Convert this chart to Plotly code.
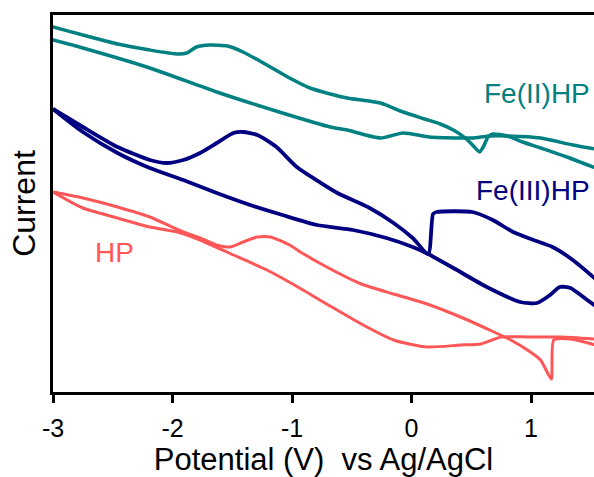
import plotly.graph_objects as go

# ---------------- data (potential in V, current in arbitrary units) ----------------
# Fe(II)HP
fe2_scan_a_v = [-3.10, -3.00, -2.75, -2.46, -2.19, -1.96, -1.88, -1.80, -1.69, -1.54, -1.41, -1.21,
                -1.02, -0.85, -0.68, -0.54, -0.26, -0.07, 0.11, 0.24, 0.35, 0.45, 0.51, 0.57,
                0.60, 0.64, 0.68, 0.80, 0.93, 1.08, 1.30, 1.54]
fe2_scan_a_i = [36.8, 36.5, 35.7, 34.8, 34.2, 33.8, 33.9, 34.5, 34.7, 34.6, 34.0, 32.7,
                31.4, 30.4, 29.8, 29.4, 28.9, 28.0, 27.3, 26.8, 26.2, 25.4, 24.7, 24.0,
                24.5, 25.5, 25.8, 25.6, 25.0, 24.4, 23.5, 22.4]
fe2_scan_b_v = [-3.10, -3.00, -2.75, -2.19, -1.63, -1.08, -0.68, -0.54, -0.26, -0.07, 0.15, 0.41,
                0.51, 0.66, 0.80, 1.08, 1.35, 1.54]
fe2_scan_b_i = [35.5, 35.2, 34.4, 32.4, 30.0, 27.9, 26.5, 26.2, 25.4, 25.9, 25.5, 25.4,
                25.4, 25.6, 25.6, 25.4, 24.7, 24.3]

# Fe(III)HP
fe3_scan_a_v = [-3.00, -2.75, -2.46, -2.19, -2.05, -1.91, -1.77, -1.63, -1.49, -1.41, -1.29, -1.13,
                -0.96, -0.77, -0.62, -0.35, -0.15, 0.01, 0.14, 0.18, 0.21, 0.51, 0.68, 0.85,
                1.02, 1.18, 1.35, 1.54]
fe3_scan_a_i = [28.3, 26.5, 24.5, 23.2, 22.9, 23.2, 23.9, 24.9, 25.9, 26.0, 25.7, 24.5,
                22.5, 21.0, 19.9, 18.4, 16.9, 15.4, 13.8, 17.8, 18.0, 18.0, 17.2, 16.0,
                15.2, 14.5, 13.2, 11.3]
fe3_scan_b_v = [-3.00, -2.75, -2.46, -2.19, -1.91, -1.63, -1.35, -1.08, -0.79, -0.49, -0.21, 0.01,
                0.14, 0.35, 0.63, 0.91, 1.05, 1.16, 1.24, 1.33, 1.47, 1.54]
fe3_scan_b_i = [28.3, 26.0, 23.9, 22.4, 21.2, 19.9, 18.7, 17.7, 16.7, 16.2, 15.4, 14.5,
                13.8, 12.4, 10.5, 9.0, 8.9, 9.7, 10.5, 10.4, 9.2, 8.6]

# HP
hp_scan_a_v = [-3.00, -2.75, -2.46, -2.19, -1.91, -1.77, -1.63, -1.52, -1.41, -1.29, -1.18, -1.02,
               -0.93, -0.71, -0.42, -0.15, 0.13, 0.41, 0.69, 0.83, 0.97, 1.08, 1.17, 1.19,
               1.33, 1.54]
hp_scan_a_i = [20.0, 19.4, 18.5, 17.5, 16.0, 15.4, 14.7, 14.5, 15.0, 15.5, 15.5, 14.7,
               14.0, 12.5, 10.8, 9.8, 8.8, 7.5, 6.0, 5.2, 4.2, 3.2, 1.3, 5.2,
               5.3, 4.7]
hp_scan_b_v = [-3.00, -2.75, -2.46, -2.19, -1.96, -1.77, -1.49, -1.21, -0.98, -0.71, -0.42, -0.15,
               0.13, 0.41, 0.58, 0.75, 0.97, 1.25, 1.54]
hp_scan_b_i = [20.0, 18.4, 17.4, 16.5, 16.0, 15.2, 13.7, 12.2, 10.7, 8.8, 6.8, 5.2,
               4.5, 4.7, 4.8, 5.5, 5.5, 5.5, 5.3]

x_tick_values = [-3, -2, -1, 0, 1]
x_tick_labels = ["-3", "-2", "-1", "0", "1"]
series_names = ["Fe(II)HP", "Fe(III)HP", "HP"]

# ---------------- styling ----------------
TEAL = "#008080"
NAVY = "#000080"
RED = "#FF5757"
FONT = "Liberation Sans, Arial, sans-serif"

fig = go.Figure()

curves = [
    (fe2_scan_a_v, fe2_scan_a_i, TEAL, 3.5, series_names[0]),
    (fe2_scan_b_v, fe2_scan_b_i, TEAL, 3.5, series_names[0]),
    (fe3_scan_a_v, fe3_scan_a_i, NAVY, 3.8, series_names[1]),
    (fe3_scan_b_v, fe3_scan_b_i, NAVY, 3.8, series_names[1]),
    (hp_scan_a_v, hp_scan_a_i, RED, 3.0, series_names[2]),
    (hp_scan_b_v, hp_scan_b_i, RED, 3.0, series_names[2]),
]
for xv, yv, col, w, name in curves:
    fig.add_trace(go.Scatter(
        x=xv, y=yv, mode="lines", name=name, showlegend=False,
        line=dict(color=col, width=w, shape="spline", smoothing=0.6),
        hoverinfo="skip",
    ))

fig.update_layout(
    width=594, height=477, autosize=False,
    margin=dict(l=53, r=0, t=15, b=85, pad=0),
    plot_bgcolor="white", paper_bgcolor="white",
    font=dict(family=FONT, color="black"),
    showlegend=False,
    xaxis=dict(
        range=[-3, 1.527],
        tickmode="array", tickvals=x_tick_values, ticktext=x_tick_labels,
        showline=True, linecolor="black", linewidth=3, mirror=True,
        ticks="outside", ticklen=8, tickwidth=3, tickcolor="black",
        tickfont=dict(size=25, family=FONT, color="black"),
        ticklabelstandoff=4,
        showgrid=False, zeroline=False,
        title=dict(text="Potential (V)\u00a0 vs Ag/AgCl", font=dict(size=31, family=FONT, color="black"),
                   standoff=10),
    ),
    yaxis=dict(
        range=[0, 37.7],
        showline=True, linecolor="black", linewidth=3, mirror=False,
        ticks="", showticklabels=False,
        showgrid=False, zeroline=False,
        title=dict(text="Current", font=dict(size=32, family=FONT, color="black"), standoff=5),
    ),
    annotations=[
        dict(text="Fe(II)HP", x=1.51, y=29.9, xref="x", yref="y", xanchor="right", yanchor="middle",
             showarrow=False, font=dict(size=28, family=FONT, color=TEAL)),
        dict(text="Fe(III)HP", x=1.51, y=20.2, xref="x", yref="y", xanchor="right", yanchor="middle",
             showarrow=False, font=dict(size=28, family=FONT, color=NAVY)),
        dict(text="HP", x=-2.665, y=14.0, xref="x", yref="y", xanchor="left", yanchor="middle",
             showarrow=False, font=dict(size=28, family=FONT, color=RED)),
    ],
)

fig.write_html("out.html", config={"displayModeBar": False},
               post_script="document.body.style.margin='0';document.body.style.overflow='hidden';")
